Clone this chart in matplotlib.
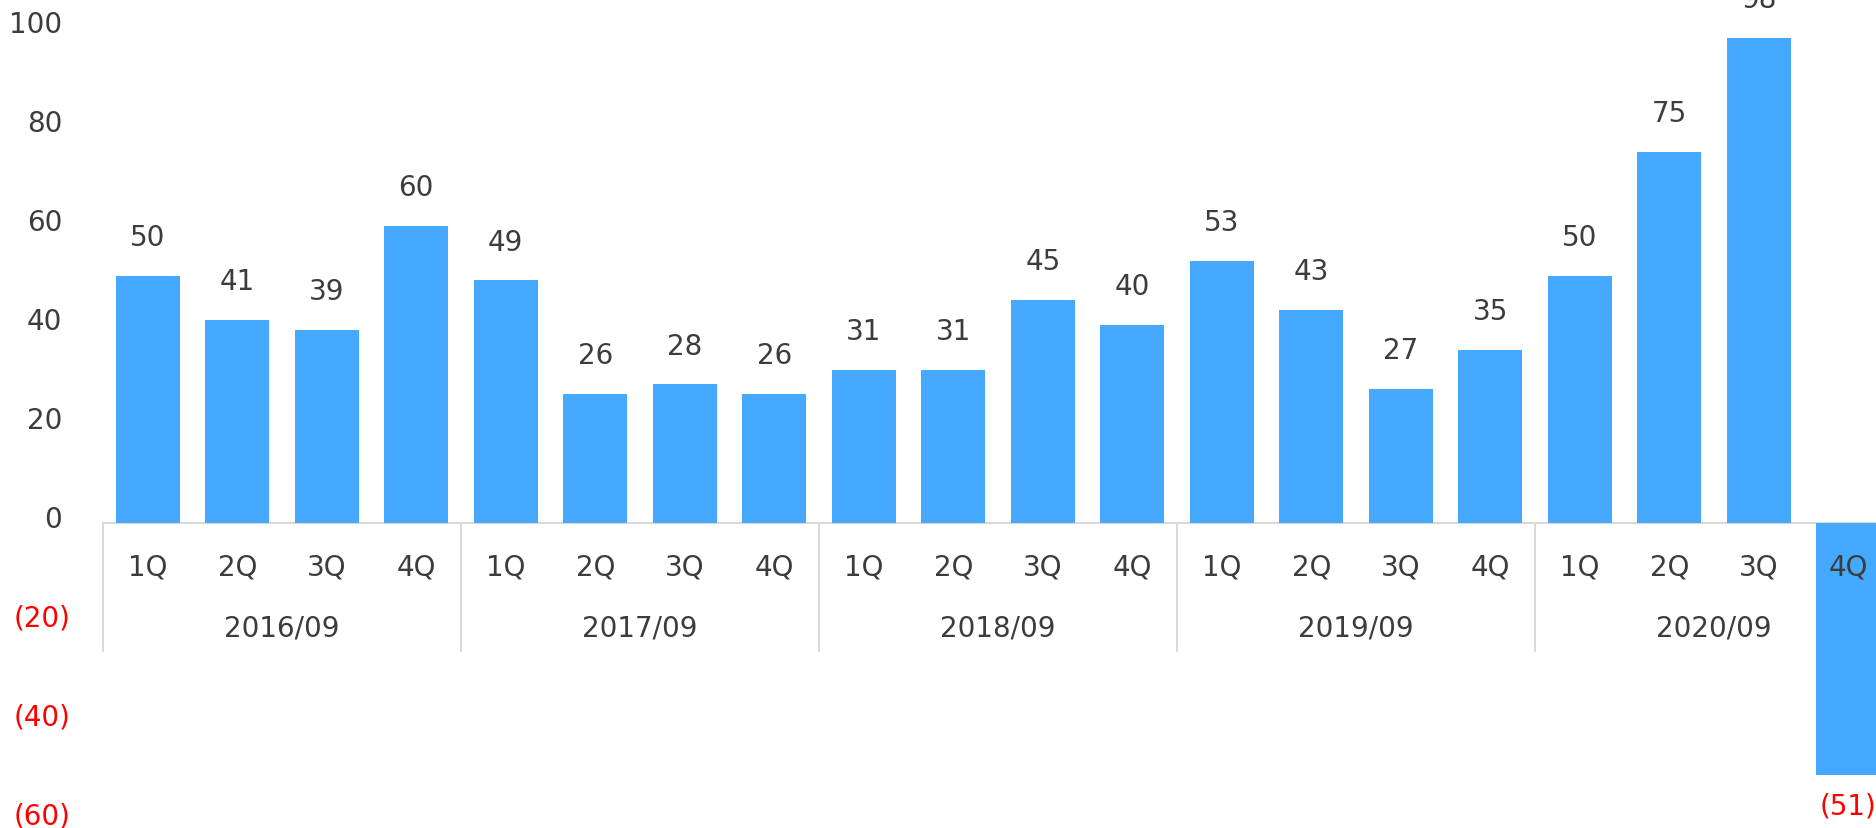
import matplotlib
matplotlib.use("Agg")
import matplotlib.pyplot as plt
from matplotlib.transforms import blended_transform_factory, offset_copy

quarters = ["1Q", "2Q", "3Q", "4Q"] * 5
years = ["2016/09", "2017/09", "2018/09", "2019/09", "2020/09"]
values = [50, 41, 39, 60, 49, 26, 28, 26, 31, 31, 45, 40, 53, 43, 27, 35, 50, 75, 98, -51]
yticks = [-60, -40, -20, 0, 20, 40, 60, 80, 100]

BAR = "#45AAFF"
TXT = "#3c3c3c"
GRID = "#d9d9d9"
FS = 20

fig = plt.figure(figsize=(18.76, 8.29), dpi=100)
ax = fig.add_axes([103 / 1876, 8 / 829, 1790 / 1876, 792 / 829])
x = list(range(len(values)))
ax.bar(x, values, width=0.715, color=BAR, zorder=2)
ax.set_xlim(-0.5, len(values) - 0.5)
ax.set_ylim(-60, 100)
ax.axis("off")

# zero axis line
ax.axhline(0, color=GRID, lw=1.5, zorder=1, clip_on=False)

# value labels
for xi, v in zip(x, values):
    if v >= 0:
        ax.annotate(f"{v}", (xi, v), xytext=(0, 28), textcoords="offset points",
                    ha="center", va="center", fontsize=FS, color=TXT, annotation_clip=False)
    else:
        ax.annotate(f"({abs(v)})", (xi, v), xytext=(0, -21.5), textcoords="offset points",
                    ha="center", va="center", fontsize=FS, color="#ff0000", annotation_clip=False)

# category labels
for xi, q in zip(x, quarters):
    ax.annotate(q, (xi, 0), xytext=(0, -31), textcoords="offset points",
                ha="center", va="center", fontsize=FS, color=TXT, zorder=5, annotation_clip=False)

# year labels and separators
px_per_unit = 792 / 160
sep_len = 128 / px_per_unit
for g, yr in enumerate(years):
    ax.annotate(yr, (g * 4 + 1.5, 0), xytext=(0, -75), textcoords="offset points",
                ha="center", va="center", fontsize=FS, color=TXT, annotation_clip=False)
    xs = g * 4 - 0.5
    ax.plot([xs, xs], [0, -sep_len], color=GRID, lw=1.5, zorder=1, clip_on=False)

# y tick labels
tr = blended_transform_factory(fig.transFigure, ax.transData)
tr = offset_copy(tr, fig=fig, x=0, y=4, units="dots")
for t in yticks:
    if t >= 0:
        fig.text(62 / 1876, t, f"{t}", transform=tr, ha="right", va="center",
                 fontsize=FS, color=TXT)
    else:
        fig.text(70 / 1876, t, f"({abs(t)})", transform=tr, ha="right", va="center",
                 fontsize=FS, color="#ff0000")

fig.savefig("out.png", dpi=100)
